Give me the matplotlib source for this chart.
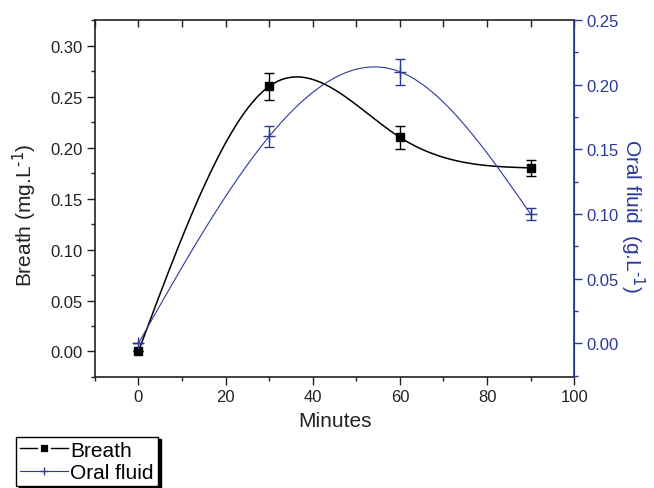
import numpy as np
import matplotlib
matplotlib.use("Agg")
import matplotlib.pyplot as plt
from matplotlib.lines import Line2D
from matplotlib.ticker import MultipleLocator

plt.rcParams["font.family"] = ["Liberation Sans", "DejaVu Sans"]
plt.rcParams["mathtext.default"] = "regular"

# Data
minutes = [0, 30, 60, 90]
breath = [0.00, 0.26, 0.21, 0.18]
breath_err = [0.0, 0.013, 0.011, 0.008]
oral = [0.00, 0.16, 0.21, 0.10]
oral_err = [0.0, 0.008, 0.010, 0.005]

BLUE = "#2B3A98"
DARK = "#222222"


def natural_spline(x, y, xs):
    # natural cubic spline through the points (like Origin's spline connect)
    x = np.asarray(x, float)
    y = np.asarray(y, float)
    n = len(x)
    h = np.diff(x)
    A = np.zeros((n, n))
    b = np.zeros(n)
    A[0, 0] = A[-1, -1] = 1
    for i in range(1, n - 1):
        A[i, i - 1] = h[i - 1]
        A[i, i] = 2 * (h[i - 1] + h[i])
        A[i, i + 1] = h[i]
        b[i] = 6 * ((y[i + 1] - y[i]) / h[i] - (y[i] - y[i - 1]) / h[i - 1])
    M = np.linalg.solve(A, b)
    idx = np.clip(np.searchsorted(x, xs) - 1, 0, n - 2)
    x0, x1 = x[idx], x[idx + 1]
    hh = x1 - x0
    t0 = x1 - xs
    t1 = xs - x0
    return (M[idx] * t0**3 / (6 * hh) + M[idx + 1] * t1**3 / (6 * hh)
            + (y[idx] / hh - M[idx] * hh / 6) * t0
            + (y[idx + 1] / hh - M[idx + 1] * hh / 6) * t1)


xs = np.linspace(minutes[0], minutes[-1], 400)

fig = plt.figure(figsize=(6.54, 4.89), dpi=100)
ax = fig.add_axes([0.145, 0.227, 0.733, 0.730])
ax2 = ax.twinx()

# Breath (left axis)
ax.plot(xs, natural_spline(minutes, breath, xs), color="black", lw=1.1, zorder=2)
ax.errorbar(minutes, breath, yerr=breath_err, fmt="s", color="black", ms=6,
            capsize=3.5, elinewidth=1, capthick=1, zorder=3)

# Oral fluid (right axis)
ax2.plot(xs, natural_spline(minutes, oral, xs), color=BLUE, lw=0.8, zorder=2)
ax2.errorbar(minutes, oral, yerr=oral_err, fmt="+", color=BLUE, ms=8,
             mew=1, capsize=3.5, elinewidth=1, capthick=1, zorder=3)

ax.set_xlim(-10, 100)
ax.set_ylim(-0.025, 0.325)
ax2.set_ylim(-0.026, 0.25)

ax.xaxis.set_major_locator(MultipleLocator(20))
ax.xaxis.set_minor_locator(MultipleLocator(10))
ax.yaxis.set_major_locator(MultipleLocator(0.05))
ax.yaxis.set_minor_locator(MultipleLocator(0.025))
ax2.yaxis.set_major_locator(MultipleLocator(0.05))
ax2.yaxis.set_minor_locator(MultipleLocator(0.025))
ax.yaxis.set_major_formatter(lambda v, p: f"{v:.2f}")
ax2.yaxis.set_major_formatter(lambda v, p: f"{v:.2f}")

for s in ["left", "bottom", "top"]:
    ax.spines[s].set_color(DARK)
    ax.spines[s].set_linewidth(1.2)
ax2.spines["right"].set_color(BLUE)
ax2.spines["right"].set_linewidth(1.2)
for s in ["left", "bottom", "top"]:
    ax2.spines[s].set_visible(False)

ax.tick_params(axis="both", which="major", direction="out", length=6,
               width=1, colors=DARK, labelsize=12, pad=3)
ax.tick_params(axis="both", which="minor", direction="out", length=3,
               width=1, colors=DARK)
ax2.tick_params(axis="y", which="major", direction="out", length=6,
                width=1, colors=BLUE, labelsize=12, pad=3)
ax2.tick_params(axis="y", which="minor", direction="out", length=3,
                width=1, colors=BLUE)

# inward ticks along the top edge every 10 minutes
top = ax.secondary_xaxis("top")
top.xaxis.set_major_locator(MultipleLocator(10))
top.tick_params(direction="in", length=5, width=1, colors=DARK, labeltop=False)
top.spines["top"].set_visible(False)

ax.set_xlabel("Minutes", fontsize=15, color=DARK, labelpad=5)
ax.set_ylabel(r"Breath (mg.L$^{\text{-1}}$)", fontsize=15, color=DARK,
              va="bottom")
ax2.set_ylabel(r"Oral fluid  (g.L$^{\text{-1}}$)", fontsize=15, color=BLUE,
               rotation=270, va="bottom")
ax.yaxis.set_label_coords(-0.117, 0.455)
ax2.yaxis.set_label_coords(1.092, 0.455)

# legend handles: white marker edge leaves small gaps on either side
h1 = Line2D([], [], color="black", lw=1, marker="s", ms=6.5, mfc="black",
            mec="white", mew=2)
h2 = Line2D([], [], color=BLUE, lw=0.8, marker="+", ms=6, mew=1)
leg = fig.legend([h1, h2], ["Breath", "Oral fluid"], loc="lower left",
                 bbox_to_anchor=(16 / 654, 2 / 489), fontsize=15,
                 frameon=True, fancybox=False, edgecolor="black",
                 shadow={"color": "black", "alpha": 1}, borderpad=0.2,
                 handlelength=2.3, handletextpad=0.1, labelspacing=0.15,
                 borderaxespad=0)
leg.get_frame().set_linewidth(1)

fig.savefig("out.png", dpi=100)
